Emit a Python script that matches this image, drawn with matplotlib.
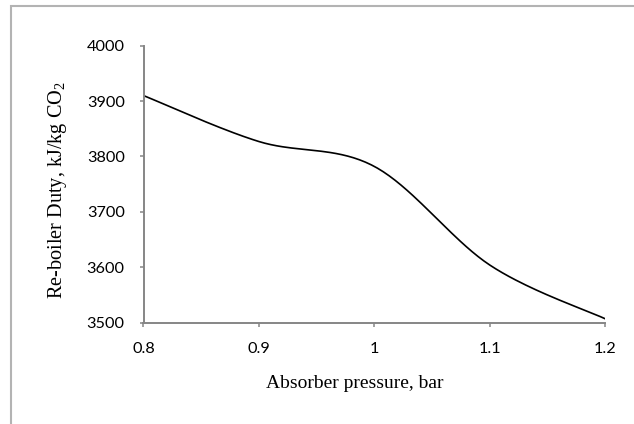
import numpy as np
import matplotlib
matplotlib.use("Agg")
import matplotlib.pyplot as plt
from matplotlib.patches import Rectangle

# absorber pressure (bar) vs re-boiler duty (kJ/kg CO2)
pressure = [0.8, 0.9, 1.0, 1.1, 1.2]
duty = [3910, 3827, 3782, 3604, 3507]
x_ticks = [0.8, 0.9, 1.0, 1.1, 1.2]
x_tick_labels = ["0.8", "0.9", "1", "1.1", "1.2"]
y_ticks = [3500, 3600, 3700, 3800, 3900, 4000]


def excel_smooth(xs, ys, n=40):
    # Bezier segments with control points from neighbours (Excel "smoothed line")
    pts = np.column_stack([xs, ys]).astype(float)
    out = [pts[0]]
    for i in range(len(pts) - 1):
        p0 = pts[i - 1] if i > 0 else pts[i]
        p1, p2 = pts[i], pts[i + 1]
        p3 = pts[i + 2] if i + 2 < len(pts) else pts[i + 1]
        c1 = p1 + (p2 - p0) / 6.0
        c2 = p2 - (p3 - p1) / 6.0
        t = np.linspace(0, 1, n)[1:, None]
        seg = (1 - t) ** 3 * p1 + 3 * (1 - t) ** 2 * t * c1 + 3 * (1 - t) * t ** 2 * c2 + t ** 3 * p2
        out.extend(seg)
    out = np.array(out)
    return out[:, 0], out[:, 1]


plt.rcParams['mathtext.fontset'] = 'custom'
plt.rcParams['mathtext.rm'] = 'Liberation Serif'
plt.rcParams['mathtext.it'] = 'Liberation Serif:italic'

W, H = 634, 424
fig = plt.figure(figsize=(W / 100, H / 100), dpi=100)
ax = fig.add_axes([143.5 / W, 1 - 322.7 / H, (605.3 - 143.5) / W, (322.7 - 45.7) / H])

sx, sy = excel_smooth(pressure, duty)
ax.plot(sx, sy, color="black", linewidth=1.2, solid_capstyle="butt")

ax.set_xlim(0.8, 1.2)
ax.set_ylim(3500, 4000)
ax.set_xticks(x_ticks)
ax.set_xticklabels(x_tick_labels)
ax.set_yticks(y_ticks)

grey = "#868686"
for side in ["top", "right"]:
    ax.spines[side].set_visible(False)
for side in ["left", "bottom"]:
    ax.spines[side].set_color(grey)
    ax.spines[side].set_linewidth(1.4)
ax.tick_params(direction="out", length=3, width=1.1, color=grey,
               labelsize=11.7, labelcolor="black")
ax.tick_params(axis="x", pad=11)
ax.tick_params(axis="y", pad=10.5)
for lbl in ax.get_xticklabels() + ax.get_yticklabels():
    lbl.set_fontfamily("Lato")

ax.set_xlabel("Absorber pressure, bar", family="Liberation Serif", fontsize=14)
ax.xaxis.label.set_verticalalignment("baseline")
ax.xaxis.set_label_coords(0.457, -0.236)
ax.set_ylabel("Re-boiler Duty, kJ/kg CO$_2$", family="Liberation Serif", fontsize=14.6)
ax.yaxis.label.set_verticalalignment("center")
ax.yaxis.set_label_coords(-0.187, 0.478)

# light grey frame around the chart area (left and top edges visible)
fig.patches.append(Rectangle((11 / W, -0.1), 2, 1.1 - 6 / H, transform=fig.transFigure,
                             fill=False, edgecolor="#b3b3b3", linewidth=1.5))

fig.savefig("out.png", dpi=100)
